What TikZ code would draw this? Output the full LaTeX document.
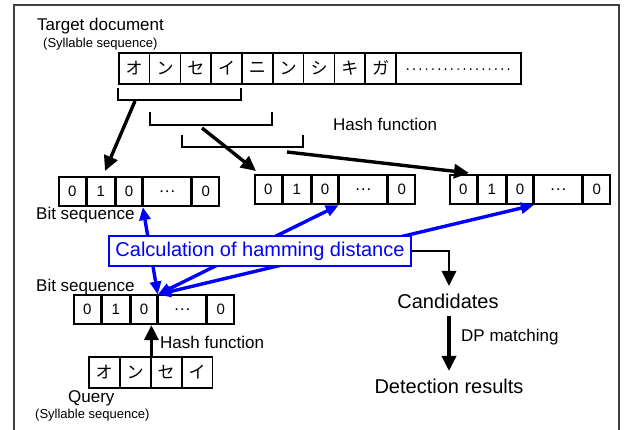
\documentclass[tikz,border=0pt]{standalone}
\usepackage{fontspec}
\setmainfont{Liberation Sans}
\newfontfamily\cjk{Noto Sans CJK JP}
\usetikzlibrary{arrows.meta}
\tikzset{
  cell/.style={draw, line width=1.6pt, inner sep=0pt, anchor=north west, fill=white},
  kcell/.style={cell, minimum width=30.8pt, minimum height=31pt, font=\cjk\fontsize{17}{17}\selectfont},
  bcell/.style={cell, minimum height=29pt, font=\fontsize{15}{15}\selectfont},
  lbl/.style={inner sep=0pt, anchor=west},
  big/.style={font=\fontsize{20}{22}\selectfont},
  mid/.style={font=\fontsize{17}{19}\selectfont},
  small/.style={font=\fontsize{13}{15}\selectfont},
  barrow/.style={line width=3.4pt, -{Triangle[length=15pt,width=14pt]}},
  bluearrow/.style={draw=blue, line width=3.4pt, {Triangle[length=13pt,width=11pt]}-{Triangle[length=13pt,width=11pt]}},
  brk/.style={line width=1.6pt},
}
\begin{document}
\begin{tikzpicture}[x=1pt,y=-1pt]
\useasboundingbox (0,0) rectangle (627,430);
\clip (0,0) rectangle (627,430);
% frame
\draw[line width=1.4pt, black!75] (14,440) -- (14,5) -- (619,5) -- (619,440);

% titles
\node[lbl, mid] (tdoc) at (37,26) {Target document};
\node[lbl, small] (tsyl) at (43,44) {(Syllable sequence)};

% target syllable cells
\foreach \k/\ch in {0/オ,1/ン,2/セ,3/イ,4/ニ,5/ン,6/シ,7/キ,8/ガ}{
  \node[kcell] (t\k) at ({118+30.8*\k},52) {\ch};
}
\node[cell, minimum width=125pt, minimum height=31pt] (tdots) at (395.2,52) {};
\foreach \i in {0,...,16}{
  \fill (tdots.west) ++({12.5+6.3*\i},0.8) circle (0.95pt);
}

% brackets
\draw[brk] (118,88) -- (118,100) -- (241,100) -- (241,88);
\draw[brk] (150,112) -- (150,125) -- (272,125) -- (272,112);
\draw[brk] (182,135) -- (182,147) -- (303,147) -- (303,135);
\coordinate (s1) at (135,101);
\coordinate (s2) at (202,128);
\coordinate (s3) at (287,152);

\node[lbl, mid] (hash1) at (333,124) {Hash function};

% bit sequence boxes
\newcommand\bitbox[3]{%
  \node[bcell, minimum width=27pt] (#1a) at (#2,#3) {0};
  \node[bcell, minimum width=27pt] (#1b) at (#1a.north east) {1};
  \node[bcell, minimum width=26pt] (#1c) at (#1b.north east) {0};
  \node[bcell, minimum width=47pt] (#1d) at (#1c.north east) {\cjk\fontsize{15}{15}\selectfont …};
  \node[bcell, minimum width=27pt] (#1e) at (#1d.north east) {0};
}
\bitbox{p}{58}{176.5}
\bitbox{q}{254}{174.5}
\bitbox{r}{449}{174.5}
\bitbox{u}{73}{294.5}

\coordinate (e1) at (105,171);
\coordinate (e2) at (256,171);
\coordinate (e3) at (469,173);
\draw[barrow] (s1) -- (e1);
\draw[barrow] (s2) -- (e2);
\draw[barrow] (s3) -- (e3);

\node[lbl, mid] (bits1) at (36,215) {Bit sequence};
\node[lbl, mid] (bits2) at (36,287) {Bit sequence};

% blue double arrows
\draw[bluearrow] (uc.north east) -- (pc.south east);
\draw[bluearrow] (uc.north east) -- (qc.south east);
\draw[bluearrow] (uc.north east) -- (rc.south east);

% calculation box
\node[draw=blue, line width=1.8pt, fill=white, text=blue, big, inner sep=0pt,
      minimum width=302pt, minimum height=30pt] (calc) at (260,251) {Calculation of hamming distance};

% candidates and detection
\node[big, inner sep=0pt] (cand) at (448,301) {Candidates};
\node[big, inner sep=0pt] (det) at (449,386) {Detection results};
\coordinate (ctop) at (449,286);
\draw[line width=2.8pt, -{Triangle[length=15pt,width=14pt]}] (calc.east) -| (ctop);
\coordinate (dtop) at (449,371);
\draw[barrow] (449,316) -- (dtop);
\node[lbl, mid] (dp) at (461,337) {DP matching};

% query
\foreach \k/\ch in {0/オ,1/ン,2/セ,3/イ}{
  \node[kcell] (qy\k) at ({88+31*\k},356) {\ch};
}
\draw[barrow] (qy1.north east) -- (qy1.north east |- uc.south);
\node[lbl, mid] (hash2) at (160,342) {Hash function};
\node[lbl, mid] (query) at (68,398) {Query};
\node[lbl, small] (qsyl) at (35,415) {(Syllable sequence)};
\end{tikzpicture}
\end{document}
